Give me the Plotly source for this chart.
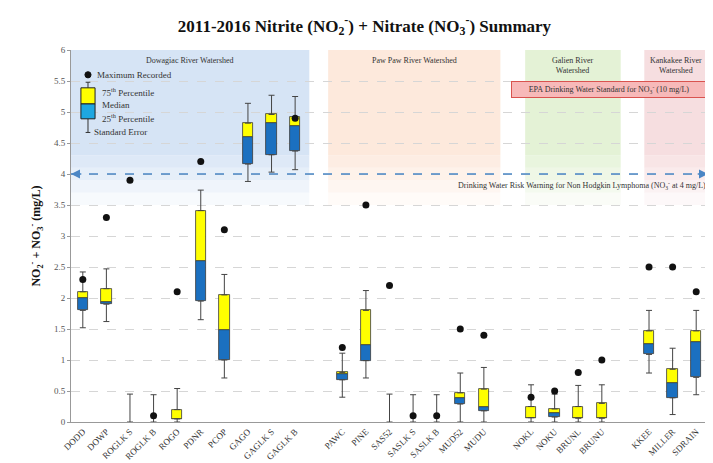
import plotly.graph_objects as go

# ---------------- data ----------------
sites = ["DODD", "DOWP", "ROGLK S", "ROGLK B", "ROGO", "PDNR", "PCOP", "GAGO", "GAGLK S", "GAGLK B",
         "PAWC", "PINE", "SAS52", "SASLK S", "SASLK B", "MUD52", "MUDU",
         "NOKL", "NOKU", "BRUNL", "BRUNU",
         "KKEE", "MILLER", "SDRAIN"]
group_names = ["Dowagiac River Watershed", "Paw Paw River Watershed",
               "Galien River<br>Watershed", "Kankakee River<br>Watershed"]
group_sizes = [10, 7, 4, 3]

q1 = [1.80, 1.90, None, None, 0.05, 1.95, 1.00, 4.16, 4.31, 4.37,
      0.68, 0.99, None, None, None, 0.29, 0.18,
      0.07, 0.08, 0.06, 0.06,
      1.09, 0.39, 0.72]
median = [2.00, 1.93, None, None, 0.05, 2.59, 1.49, 4.60, 4.82, 4.77,
          0.77, 1.24, None, None, None, 0.38, 0.24,
          0.07, 0.15, 0.06, 0.06,
          1.26, 0.63, 1.29]
q3 = [2.10, 2.15, None, None, 0.20, 3.41, 2.05, 4.82, 4.96, 4.92,
      0.80, 1.80, None, None, None, 0.47, 0.53,
      0.25, 0.21, 0.25, 0.30,
      1.47, 0.85, 1.47]
whisker_hi = [2.42, 2.47, 0.45, 0.44, 0.54, 3.74, 2.38, 5.14, 5.27, 5.25,
              1.11, 2.12, 0.45, 0.44, 0.44, 0.79, 0.88,
              0.60, 0.45, 0.59, 0.60,
              1.80, 1.19, 1.80]
whisker_lo = [1.52, 1.62, None, None, 0.00, 1.65, 0.71, 3.88, 4.03, 4.07,
              0.40, 0.71, None, None, None, 0.00, 0.00,
              0.00, 0.00, 0.00, 0.00,
              0.79, 0.12, 0.44]
max_recorded = [2.3, 3.3, 3.9, 0.1, 2.1, 4.2, 3.1, None, None, 4.9,
                1.2, 3.5, 2.2, 0.1, 0.1, 1.5, 1.4,
                0.4, 0.5, 0.8, 1.0,
                2.5, 2.5, 2.1]

# ---------------- layout helpers ----------------
FONT = "Liberation Serif, Times New Roman, serif"
YELLOW = "#FFFF00"
BLUE = "#1B70C0"
EDGE = "#3a3a3a"

# slot positions with one empty slot between watersheds
xpos = []
cur = 0
for n in group_sizes:
    for i in range(n):
        xpos.append(cur)
        cur += 1
    cur += 1
x_min, x_max = -0.5, cur - 1.5

fig = go.Figure()

# boxes: blue (q1..median) and yellow (median..q3)
blue_h = [None if (a is None or m is None) else m - a for a, m in zip(q1, median)]
yel_h = [None if (m is None or b is None) else b - m for m, b in zip(median, q3)]
fig.add_trace(go.Bar(x=xpos, y=blue_h, base=q1, width=0.44,
                     marker=dict(color=BLUE, line=dict(color=EDGE, width=0.8)),
                     showlegend=False, hoverinfo="skip"))
fig.add_trace(go.Bar(x=xpos, y=yel_h, base=median, width=0.44,
                     marker=dict(color=YELLOW, line=dict(color=EDGE, width=0.8)),
                     showlegend=False, hoverinfo="skip"))

# whiskers via error bars
top_base = [b if b is not None else 0 for b in q3]
up_len = [h - b for h, b in zip(whisker_hi, top_base)]
fig.add_trace(go.Scatter(x=xpos, y=top_base, mode="markers",
                         marker=dict(size=1, color="rgba(0,0,0,0)"),
                         error_y=dict(type="data", symmetric=False, array=up_len,
                                      arrayminus=[0] * len(up_len), color="#444", thickness=1, width=3),
                         showlegend=False, hoverinfo="skip"))
lo_x, lo_y, lo_len = [], [], []
for x, a, l in zip(xpos, q1, whisker_lo):
    if a is not None and l is not None:
        lo_x.append(x); lo_y.append(a); lo_len.append(a - l)
fig.add_trace(go.Scatter(x=lo_x, y=lo_y, mode="markers",
                         marker=dict(size=1, color="rgba(0,0,0,0)"),
                         error_y=dict(type="data", symmetric=False, array=[0] * len(lo_len),
                                      arrayminus=lo_len, color="#444", thickness=1, width=3),
                         showlegend=False, hoverinfo="skip"))

# maximum recorded dots
fig.add_trace(go.Scatter(x=xpos, y=max_recorded, mode="markers",
                         marker=dict(size=7, color="#111"), showlegend=False, hoverinfo="skip"))

shapes, annotations = [], []

# watershed background shading (fading downward)
bg_colors = [(214, 228, 245), (253, 233, 220), (228, 242, 214), (246, 222, 224)]
bounds = [(-0.5, 9.6), (10.4, 17.7), (18.75, 22.8), (23.8, x_max)]
for (x0, x1), (r, g, b), name in zip(bounds, bg_colors, group_names):
    shapes.append(dict(type="rect", xref="x", yref="y", x0=x0, x1=x1, y0=4.3, y1=6,
                       fillcolor=f"rgb({r},{g},{b})", line=dict(width=0), layer="below"))
    steps = [(4.1, 4.3, 0.8), (3.9, 4.1, 0.6), (3.7, 3.9, 0.4), (3.5, 3.7, 0.2)]
    for y0, y1, op in steps:
        shapes.append(dict(type="rect", xref="x", yref="y", x0=x0, x1=x1, y0=y0, y1=y1,
                           fillcolor=f"rgba({r},{g},{b},{op})", line=dict(width=0), layer="below"))
    annotations.append(dict(x=(x0 + x1) / 2, y=5.94, xref="x", yref="y", text=name, showarrow=False,
                            yanchor="top", font=dict(family=FONT, size=8, color="#333")))

# NHL risk warning line at 4 mg/L
shapes.append(dict(type="line", xref="x", yref="y", x0=x_min, x1=x_max, y0=4, y1=4,
                   line=dict(color="#4a86c5", width=1.5, dash="dash")))
annotations.append(dict(x=x_max, y=4, ax=x_max - 0.5, ay=4, xref="x", yref="y", axref="x", ayref="y",
                        text="", showarrow=True, arrowhead=2, arrowsize=1.2, arrowwidth=1.5,
                        arrowcolor="#4a86c5"))
annotations.append(dict(x=x_min, y=4, ax=x_min + 0.5, ay=4, xref="x", yref="y", axref="x", ayref="y",
                        text="", showarrow=True, arrowhead=2, arrowsize=1.2, arrowwidth=1.5,
                        arrowcolor="#4a86c5"))
annotations.append(dict(x=x_max, y=3.94, xref="x", yref="y", xanchor="right", yanchor="top",
                        text="Drinking Water Risk Warning for Non Hodgkin Lymphoma (NO<sub>3</sub><sup>-</sup> at 4 mg/L)",
                        showarrow=False, font=dict(family=FONT, size=8, color="#333")))

# EPA standard box
annotations.append(dict(x=22.3, y=5.36, xref="x", yref="y",
                        text="EPA Drinking Water Standard for NO<sub>3</sub><sup>-</sup> (10 mg/L)",
                        showarrow=False, bgcolor="#f7b9b9", bordercolor="#d9534f", borderwidth=1,
                        borderpad=2, width=190, font=dict(family=FONT, size=8, color="#333")))

# key (legend glyph) in top-left
kx = 0.22
shapes += [
    dict(type="line", xref="x", yref="y", x0=kx, x1=kx, y0=5.39, y1=5.48, line=dict(color="#333", width=1)),
    dict(type="line", xref="x", yref="y", x0=kx - 0.1, x1=kx + 0.1, y0=5.48, y1=5.48, line=dict(color="#333", width=1)),
    dict(type="line", xref="x", yref="y", x0=kx, x1=kx, y0=4.67, y1=4.89, line=dict(color="#333", width=1)),
    dict(type="line", xref="x", yref="y", x0=kx - 0.1, x1=kx + 0.1, y0=4.67, y1=4.67, line=dict(color="#333", width=1)),
    dict(type="rect", xref="x", yref="y", x0=kx - 0.3, x1=kx + 0.3, y0=5.13, y1=5.39,
         fillcolor=YELLOW, line=dict(color="#222", width=1)),
    dict(type="rect", xref="x", yref="y", x0=kx - 0.3, x1=kx + 0.3, y0=4.89, y1=5.13,
         fillcolor="#1ea7e1", line=dict(color="#222", width=1)),
    dict(type="circle", xref="x", yref="y", x0=kx - 0.13, x1=kx + 0.13, y0=5.55, y1=5.65,
         fillcolor="#111", line=dict(color="#111", width=1)),
]
key_labels = [(kx + 0.3, 5.6, "Maximum Recorded"), (kx + 0.5, 5.33, "75<sup>th</sup> Percentile"),
              (kx + 0.5, 5.11, "Median"), (kx + 0.5, 4.9, "25<sup>th</sup> Percentile"),
              (kx + 0.15, 4.67, "Standard Error")]
for x, y, t in key_labels:
    annotations.append(dict(x=x, y=y, xref="x", yref="y", text=t, showarrow=False, xanchor="left",
                            font=dict(family=FONT, size=9, color="#333")))

fig.update_layout(
    width=713, height=463,
    margin=dict(l=63, r=13, t=42, b=49),
    paper_bgcolor="white", plot_bgcolor="white",
    barmode="overlay", bargap=0,
    font=dict(family=FONT, size=9, color="#333"),
    title=dict(text="2011-2016 Nitrite (NO<sub>2</sub><sup>-</sup>) + Nitrate (NO<sub>3</sub><sup>-</sup>) Summary",
               x=0.5, xanchor="center", y=0.962, yanchor="middle", yref="container",
               font=dict(family=FONT, size=17, color="#111", weight="bold")),
    shapes=shapes, annotations=annotations,
    xaxis=dict(range=[x_min, x_max], tickmode="array", tickvals=xpos, ticktext=sites,
               tickangle=-45, tickfont=dict(family=FONT, size=9, color="#333"), automargin=False,
               showgrid=False, zeroline=False, showline=True, linecolor="#999", linewidth=1,
               ticks=""),
    yaxis=dict(range=[0, 6], dtick=0.5, tickfont=dict(family=FONT, size=9, color="#555"), automargin=False,
               showgrid=True, gridcolor="#d6d6d6", griddash="dash", gridwidth=1,
               zeroline=False, showline=True, linecolor="#999", linewidth=1,
               ticks="outside", ticklen=3, tickcolor="#999",
               title=dict(text="NO<sub>2</sub><sup>-</sup> + NO<sub>3</sub><sup>-</sup> (mg/L)",
                          font=dict(family=FONT, size=12, color="#111", weight="bold"), standoff=10)),
)

fig.write_html("out.html")
